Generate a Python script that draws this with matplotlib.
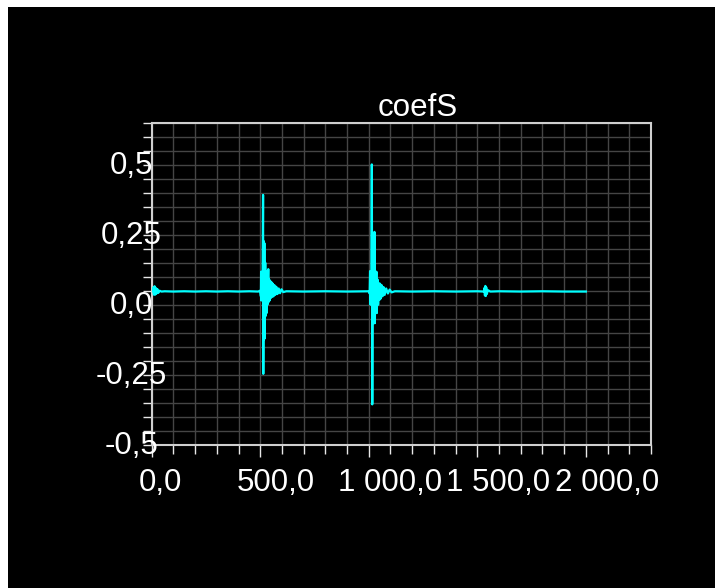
import matplotlib
matplotlib.use("Agg")
import matplotlib.pyplot as plt
from matplotlib.patches import Rectangle
from matplotlib.ticker import MultipleLocator
import matplotlib.transforms as mtransforms

plt.rcParams['font.family'] = ['Liberation Sans', 'DejaVu Sans']

# ---- data ----
sample_idx = [0, 4, 8, 10, 13, 16, 19, 22, 26, 30, 36, 45, 60, 100, 150, 200, 250, 300, 350, 400,
              450, 490, 500, 503, 504, 505, 507, 509, 511, 513, 514, 516, 517, 519, 521, 523, 525,
              527, 529, 531, 533, 537, 539, 541, 543, 546, 549, 552, 555, 558, 561, 565, 569, 574,
              579, 585, 591, 598, 606, 620, 700, 800, 900, 1000, 1004, 1006, 1008, 1010, 1012, 1014,
              1016, 1018, 1020, 1022, 1024, 1026, 1028, 1030, 1032, 1035, 1037, 1040, 1043, 1046,
              1049, 1052, 1055, 1059, 1063, 1068, 1073, 1080, 1088, 1096, 1105, 1120, 1200, 1300,
              1400, 1500, 1530, 1533, 1535, 1537, 1539, 1541, 1544, 1548, 1560, 1600, 1700, 1800,
              1900, 2000]
coef_values = [0.047, 0.05, 0.062, 0.036, 0.066, 0.036, 0.06, 0.04, 0.056, 0.042, 0.05, 0.047, 0.048,
               0.047, 0.048, 0.047, 0.048, 0.047, 0.048, 0.047, 0.048, 0.047, 0.05, 0.03, 0.118, 0.015,
               0.11, 0.02, 0.09, 0.392, -0.247, 0.227, -0.126, 0.22, -0.12, 0.15, -0.04, 0.12, -0.03,
               0.1, 0.0, 0.127, 0.01, 0.09, 0.015, 0.085, 0.024, 0.08, 0.028, 0.075, 0.03, 0.07, 0.035,
               0.064, 0.038, 0.058, 0.041, 0.055, 0.045, 0.048, 0.047, 0.048, 0.047, 0.048, 0.04, 0.12,
               0.0, 0.1, 0.03, 0.501, -0.356, 0.12, -0.02, 0.15, -0.066, 0.26, -0.066, 0.1, 0.0, 0.118,
               -0.03, 0.09, 0.0, 0.077, 0.017, 0.075, 0.022, 0.07, 0.03, 0.063, 0.035, 0.058, 0.04,
               0.054, 0.044, 0.048, 0.047, 0.048, 0.047, 0.048, 0.047, 0.06, 0.033, 0.067, 0.031, 0.062,
               0.038, 0.052, 0.047, 0.048, 0.047, 0.048, 0.047, 0.047]

x_ticks = [0, 500, 1000, 1500, 2000]
x_tick_labels = ["0,0", "500,0", "1 000,0", "1 500,0", "2 000,0"]
y_ticks = [0.5, 0.25, 0.0, -0.25, -0.5]
y_tick_labels = ["0,5", "0,25", "0,0", "-0,25", "-0,5"]
title = "coefS"

W, H, DPI = 715, 588, 100
fig = plt.figure(figsize=(W / DPI, H / DPI), dpi=DPI, facecolor='white')
fig.patches.append(Rectangle((8 / W, 0), 1 - 8 / W, 1 - 7 / H, transform=fig.transFigure,
                             facecolor='black', edgecolor='none', zorder=-10))

ax_l, ax_r, ax_t, ax_b = 151.7, 651.0, 122.7, 444.7
ax = fig.add_axes([ax_l / W, 1 - ax_b / H, (ax_r - ax_l) / W, (ax_b - ax_t) / H])
ax.set_facecolor('black')

ax.plot(sample_idx, coef_values, color='#00ffff', lw=1.6, zorder=3)

ax.set_xlim(0, 2300)
ax.set_ylim(-0.5, 0.65)
ax.xaxis.set_major_locator(MultipleLocator(500))
ax.xaxis.set_minor_locator(MultipleLocator(100))
ax.yaxis.set_major_locator(MultipleLocator(0.25))
ax.yaxis.set_minor_locator(MultipleLocator(0.05))
ax.grid(which='both', color='#454545', lw=1.0, zorder=0)
ax.set_axisbelow(True)

for s in ax.spines.values():
    s.set_color('#cfcfcf')
    s.set_linewidth(1.5)

px = 72 / DPI
ax.tick_params(axis='x', which='major', length=12 * px, width=1, color='#e8e8e8', labelbottom=False)
ax.tick_params(axis='x', which='minor', length=8.7 * px, width=1, color='#e8e8e8')
ax.tick_params(axis='y', which='both', length=8.7 * px, width=1, color='#e8e8e8', labelleft=False)

fs = 22.5
# y labels, centered ~20.7 px left of the spine
ytrans = mtransforms.blended_transform_factory(ax.transAxes, ax.transData)
for v, lab in zip(y_ticks, y_tick_labels):
    ax.text(0, v, lab, transform=ytrans + mtransforms.ScaledTranslation(-20.7 / DPI, -1.0 / DPI, fig.dpi_scale_trans),
            ha='center', va='center', color='white', fontsize=fs, clip_on=False)

# x labels: shifted right by 0.2 of the label width, as in the picture
xtrans = mtransforms.blended_transform_factory(ax.transData, ax.transAxes)
xlabels = []
for v, lab in zip(x_ticks, x_tick_labels):
    t = ax.text(v, 0, lab, transform=xtrans, ha='center', va='top', color='white',
                fontsize=fs, clip_on=False)
    xlabels.append(t)
fig.canvas.draw()
r = fig.canvas.get_renderer()
for t in xlabels:
    w = t.get_window_extent(r).width
    t.set_transform(xtrans + mtransforms.ScaledTranslation(0.2 * w / DPI, -23.5 / DPI, fig.dpi_scale_trans))

fig.text(418 / W, 1 - 116 / H, title, ha='center', va='baseline', color='white', fontsize=fs)

fig.savefig("out.png", dpi=DPI, facecolor=fig.get_facecolor())
